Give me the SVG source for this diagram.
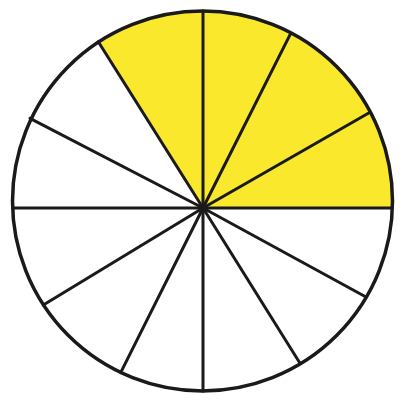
<svg xmlns="http://www.w3.org/2000/svg" width="402" height="402" viewBox="0 0 402 402">
<style>
.sp{stroke:#1a1a1a;stroke-width:3;stroke-linecap:round;fill:none}
.rim{stroke:#1a1a1a;stroke-width:3.5;fill:none}
</style>
<rect width="402" height="402" fill="#ffffff"/>
<g id="fill">
<path d="M203,208 L98.3,41.7 A190,190 0 0 1 392.4,208 Z" fill="#FAE82C"/>
</g>
<g id="spokes" class="sp">
<line x1="203" y1="208" x2="392.4" y2="208"/>
<line x1="203" y1="208" x2="368.3" y2="113.3"/>
<line x1="203" y1="208" x2="290.7" y2="33.3"/>
<line x1="203" y1="208" x2="203" y2="11"/>
<line x1="203" y1="208" x2="98.3" y2="41.7"/>
<line x1="203" y1="208" x2="30" y2="118.3"/>
<line x1="203" y1="208" x2="12.6" y2="208"/>
<line x1="203" y1="208" x2="43.3" y2="305"/>
<line x1="203" y1="208" x2="120.7" y2="372.7"/>
<line x1="203" y1="208" x2="203" y2="391"/>
<line x1="203" y1="208" x2="300" y2="363.3"/>
<line x1="203" y1="208" x2="366" y2="297"/>
</g>
<g id="circle">
<circle class="rim" cx="202.5" cy="201" r="190"/>
</g>
</svg>
